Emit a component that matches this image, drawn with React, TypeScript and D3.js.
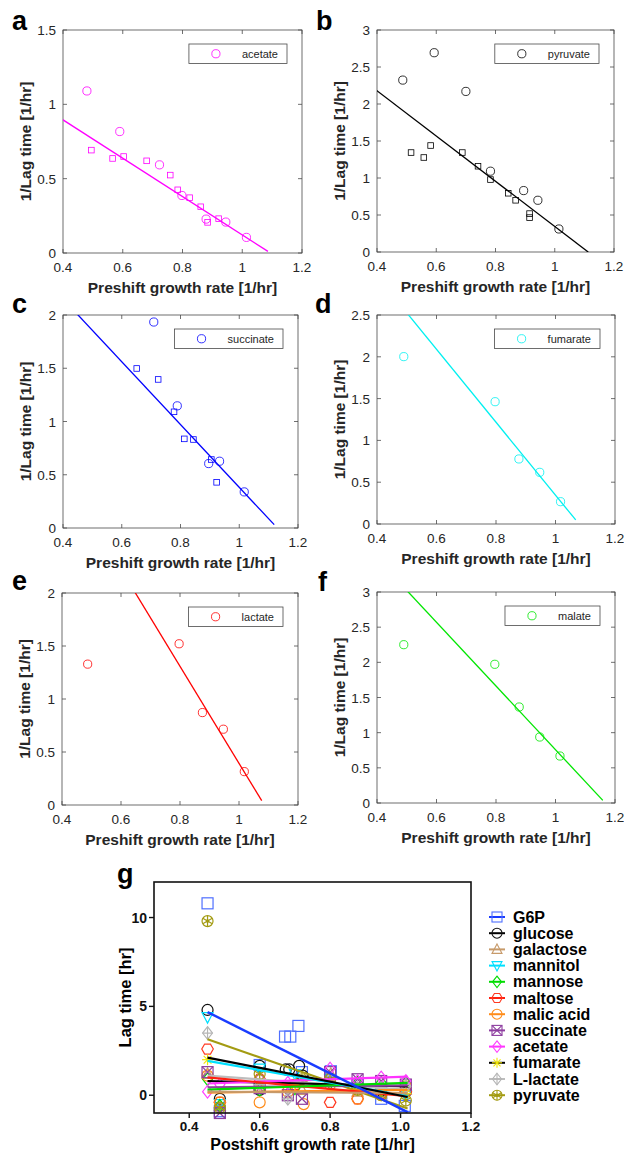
import React from "react";
import * as d3 from "d3";

const FONT = "'Liberation Sans', Arial, Helvetica, sans-serif";
const INK = "#262626";

// ---------- panels a-f : 1/lag time vs preshift growth rate ----------
const preTicks = [0.4, 0.6, 0.8, 1, 1.2];

const acetateCircles = [[0.48, 1.09], [0.59, 0.817], [0.723, 0.593], [0.798, 0.387], [0.879, 0.228], [0.945, 0.208], [1.014, 0.105]];
const acetateSquares = [[0.495, 0.692], [0.566, 0.636], [0.603, 0.649], [0.68, 0.62], [0.759, 0.524], [0.784, 0.425], [0.824, 0.372], [0.861, 0.311], [0.884, 0.206], [0.921, 0.231]];
const acetateFit = [1.411, -1.289, 1.086]; // intercept, slope, last x

const pyruvateCircles = [[0.487, 2.323], [0.593, 2.693], [0.7, 2.17], [0.783, 1.092], [0.895, 0.83], [0.943, 0.699], [1.014, 0.311]];
const pyruvateSquares = [[0.515, 1.344], [0.558, 1.277], [0.581, 1.439], [0.688, 1.344], [0.741, 1.159], [0.783, 0.979], [0.843, 0.794], [0.868, 0.699], [0.915, 0.519], [0.915, 0.465]];
const pyruvateFit = [3.401, -3.056, 1.113];

const succinateCircles = [[0.709, 1.934], [0.789, 1.147], [0.896, 0.605], [0.933, 0.627], [1.017, 0.339]];
const succinateSquares = [[0.651, 1.498], [0.724, 1.395], [0.778, 1.091], [0.813, 0.837], [0.844, 0.831], [0.905, 0.643], [0.923, 0.429]];
const succinateFit = [3.33, -2.948, 1.119];

const fumarateCircles = [[0.49, 2.002], [0.797, 1.463], [0.877, 0.778], [0.947, 0.618], [1.017, 0.267]];
const fumarateFit = [4.708, -4.363, 1.068];

const lactateCircles = [[0.487, 1.329], [0.797, 1.521], [0.876, 0.872], [0.947, 0.715], [1.018, 0.315]];
const lactateFit = [4.97, -4.577, 1.077];

const malateCircles = [[0.49, 2.251], [0.796, 1.972], [0.878, 1.365], [0.947, 0.938], [1.015, 0.668]];
const malateFit = [5.287, -4.529, 1.159];

const panels = [
  { letter: "a", lx: 12, ly: 30, name: "acetate", color: "#ff00ff", circles: acetateCircles, squares: acetateSquares, fit: acetateFit, yMax: 1.5, box: [63, 302, 30, 253] },
  { letter: "b", lx: 316, ly: 30, name: "pyruvate", color: "#000000", circles: pyruvateCircles, squares: pyruvateSquares, fit: pyruvateFit, yMax: 3, box: [377, 614, 30, 252] },
  { letter: "c", lx: 12, ly: 313, name: "succinate", color: "#0000ff", circles: succinateCircles, squares: succinateSquares, fit: succinateFit, yMax: 2, box: [63, 298, 315, 528] },
  { letter: "d", lx: 315, ly: 313, name: "fumarate", color: "#00f0f0", circles: fumarateCircles, squares: [], fit: fumarateFit, yMax: 2.5, box: [377, 615, 315, 524] },
  { letter: "e", lx: 12, ly: 590, name: "lactate", color: "#ff0000", circles: lactateCircles, squares: [], fit: lactateFit, yMax: 2, box: [62, 298, 593, 805] },
  { letter: "f", lx: 318, ly: 591, name: "malate", color: "#00e600", circles: malateCircles, squares: [], fit: malateFit, yMax: 3, box: [377, 615, 592, 803] },
];

// ---------- panel g : lag time vs postshift growth rate ----------
const postTicks = [0.4, 0.6, 0.8, 1.0, 1.2];
const lagTicks = [0, 5, 10];

const gNames = ["G6P", "glucose", "galactose", "mannitol", "mannose", "maltose", "malic acid", "succinate", "acetate", "fumarate", "L-lactate", "pyruvate"];

const g6pPts = [[0.452, 10.8], [0.487, -0.9], [0.6, 1.7], [0.672, 3.3], [0.687, 3.3], [0.71, 3.9], [0.72, 1.3], [0.802, 1.35], [0.878, 0.6], [0.945, -0.2], [1.012, -0.6]];
const glucosePts = [[0.452, 4.8], [0.487, -0.2], [0.6, 1.65], [0.6, 0.3], [0.674, 1.45], [0.684, 1.45], [0.712, 1.65], [0.722, 1.1], [0.8, 0.95], [0.878, 0.4], [0.945, 0.25], [1.015, 0.2]];
const galactosePts = [[0.452, 1.2], [0.487, -0.6], [0.6, 0.6], [0.69, 0.5], [0.72, 0.3], [0.802, 1.2], [0.878, 0.2], [0.945, 0.1], [1.015, 0.3]];
const mannitolPts = [[0.452, 4.4], [0.487, -0.5], [0.6, 1.5], [0.7, 1.2], [0.8, 0.9], [0.878, 0.4], [0.945, 0.2], [1.015, 0.0]];
const mannosePts = [[0.452, 0.9], [0.487, -0.6], [0.6, 0.3], [0.7, 0.4], [0.8, 0.7], [0.878, 0.7], [0.945, 0.7], [1.015, 0.7]];
const maltosePts = [[0.452, 2.6], [0.487, -0.4], [0.6, 0.9], [0.7, 0.6], [0.8, -0.4], [0.878, -0.2], [0.945, 0.1], [1.015, 0.2]];
const malicPts = [[0.452, 1.1], [0.487, -0.4], [0.6, -0.4], [0.68, 0.2], [0.725, -0.5], [0.8, 0.6], [0.878, -0.2], [0.945, 0.0], [1.015, 0.5]];
const succinatePts = [[0.452, 1.3], [0.487, -1.0], [0.6, 0.4], [0.68, 0.0], [0.72, -0.2], [0.8, 1.3], [0.878, 0.9], [0.945, 0.8], [1.015, 0.6]];
const acetatePts = [[0.452, 0.2], [0.487, 0.6], [0.6, 0.9], [0.68, 0.7], [0.8, 1.5], [0.878, 0.8], [0.945, 1.0], [1.015, 0.8]];
const fumaratePts = [[0.452, 2.0], [0.6, 0.7], [0.7, 0.6], [0.8, 0.8], [0.878, 0.4], [0.945, 0.3], [1.015, 0.1]];
const lactatePts = [[0.452, 3.5], [0.6, 0.6], [0.68, -0.2], [0.8, 0.9], [0.878, 0.4], [0.945, 0.4], [1.015, 0.5]];
const pyruvatePts = [[0.452, 9.8], [0.487, -0.7], [0.6, 1.2], [0.72, 0.9], [0.8, 0.9], [0.878, 0.3], [0.945, 0.0], [1.015, -0.3]];
const gPoints = [g6pPts, glucosePts, galactosePts, mannitolPts, mannosePts, maltosePts, malicPts, succinatePts, acetatePts, fumaratePts, lactatePts, pyruvatePts];

// fitted lag at the first and last postshift rate
const gFitX = [0.452, 1.02];
const gFitStart = [4.68, 2.12, 0.2, 1.93, 0.32, 1.0, 0.15, 0.45, 0.66, 0.8, 1.1, 3.15];
const gFitEnd = [-0.95, -0.1, 0.12, -0.05, 0.7, -0.05, 0.3, 0.55, 1.05, 0.5, 0.3, -0.75];

// styles for g
const gMarkerColor = ["#4f6fff", "#111111", "#c79a6a", "#00e0ff", "#00dd00", "#ff3a22", "#ff8c1a", "#8e3fa0", "#ff40ff", "#f2e600", "#b5b5b5", "#a39b12"];
const gLineColor = ["#1a3cff", "#000000", "#c79a6a", "#00e0ff", "#00dd00", "#ff2010", "#ff8c1a", "#8e3fa0", "#ff33ff", "#000000", "#bdbdbd", "#a39b12"];
const gShape = ["square", "circle", "triUp", "triDown", "diamond", "hexagon", "circle", "squareX", "diamond", "asterisk", "diamondPlus", "circleStar"];

let measureCtx: CanvasRenderingContext2D | null = null;
function textWidth(s: string, font: string) {
  if (!measureCtx) measureCtx = document.createElement("canvas").getContext("2d");
  if (!measureCtx) return s.length * 6;
  measureCtx.font = font;
  return measureCtx.measureText(s).width;
}

const fmt = d3.format("~g");

function Marker({ shape, cx, cy, s, color, sw }: any) {
  const h = s / 2;
  const common = { fill: "none", stroke: color, strokeWidth: sw };
  const poly = (pts: number[][]) => "M" + pts.map((p) => p.join(",")).join("L") + "Z";
  switch (shape) {
    case "square":
      return <rect x={cx - h} y={cy - h} width={s} height={s} {...common} />;
    case "circle":
      return <circle cx={cx} cy={cy} r={h} {...common} />;
    case "triUp":
      return <path d={poly([[cx, cy - h * 1.1], [cx + h, cy + h * 0.8], [cx - h, cy + h * 0.8]])} {...common} />;
    case "triDown":
      return <path d={poly([[cx, cy + h * 1.1], [cx + h, cy - h * 0.8], [cx - h, cy - h * 0.8]])} {...common} />;
    case "diamond":
      return <path d={poly([[cx, cy - h * 1.15], [cx + h * 0.9, cy], [cx, cy + h * 1.15], [cx - h * 0.9, cy]])} {...common} />;
    case "hexagon":
      return <path d={poly(d3.range(6).map((k) => [cx + h * 1.05 * Math.cos((k * Math.PI) / 3), cy + h * 1.05 * Math.sin((k * Math.PI) / 3)]))} {...common} />;
    case "squareX":
      return (
        <g {...common}>
          <rect x={cx - h} y={cy - h} width={s} height={s} />
          <path d={`M${cx - h},${cy - h}L${cx + h},${cy + h}M${cx + h},${cy - h}L${cx - h},${cy + h}`} />
        </g>
      );
    case "asterisk":
      return (
        <g {...common}>
          {[0, 45, 90, 135].map((a) => {
            const dx = h * Math.cos((a * Math.PI) / 180);
            const dy = h * Math.sin((a * Math.PI) / 180);
            return <line key={a} x1={cx - dx} y1={cy - dy} x2={cx + dx} y2={cy + dy} />;
          })}
        </g>
      );
    case "diamondPlus":
      return (
        <g {...common}>
          <path d={poly([[cx, cy - h * 1.15], [cx + h * 0.9, cy], [cx, cy + h * 1.15], [cx - h * 0.9, cy]])} />
          <path d={`M${cx},${cy - h * 1.15}L${cx},${cy + h * 1.15}M${cx - h * 0.9},${cy}L${cx + h * 0.9},${cy}`} />
        </g>
      );
    case "circleStar":
      return (
        <g {...common}>
          <circle cx={cx} cy={cy} r={h} />
          {[30, 90, 150].map((a) => {
            const dx = h * Math.cos((a * Math.PI) / 180);
            const dy = h * Math.sin((a * Math.PI) / 180);
            return <line key={a} x1={cx - dx} y1={cy - dy} x2={cx + dx} y2={cy + dy} />;
          })}
          <circle cx={cx} cy={cy} r={1.2} fill={color} />
        </g>
      );
    default:
      return null;
  }
}

function Panel({ p }: any) {
  const [left, right, top, bottom] = p.box;
  const x = d3.scaleLinear([0.4, 1.2], [left, right]);
  const y = d3.scaleLinear([0, p.yMax], [bottom, top]);
  const yTicks = d3.range(0, p.yMax + 1e-9, 0.5);
  const [b0, b1, xEnd] = p.fit;
  const fitLine = d3.line<number>()
    .x((v) => x(v))
    .y((v) => y(b0 + b1 * v));
  const clipId = "clip-" + p.letter;
  const legFont = `11px ${FONT}`;
  const legW = 53 + textWidth(p.name, legFont) + 9;
  const legR = right - 15;
  const legT = top + 14;
  const tk = 4;
  return (
    <g>
      <defs>
        <clipPath id={clipId}>
          <rect x={left} y={top} width={right - left} height={bottom - top} />
        </clipPath>
      </defs>
      <rect x={left} y={top} width={right - left} height={bottom - top} fill="#fff" stroke="#4a4a4a" strokeWidth={0.8} />
      {preTicks.map((t) => (
        <g key={"x" + t} stroke="#4a4a4a" strokeWidth={0.8}>
          <line x1={x(t)} x2={x(t)} y1={bottom} y2={bottom - tk} />
          <line x1={x(t)} x2={x(t)} y1={top} y2={top + tk} />
        </g>
      ))}
      {yTicks.map((t) => (
        <g key={"y" + t} stroke="#4a4a4a" strokeWidth={0.8}>
          <line x1={left} x2={left + tk} y1={y(t)} y2={y(t)} />
          <line x1={right} x2={right - tk} y1={y(t)} y2={y(t)} />
        </g>
      ))}
      <g fontFamily={FONT} fontSize={13.5} fill={INK}>
        {preTicks.map((t) => (
          <text key={"xl" + t} x={x(t)} y={bottom + 19} textAnchor="middle">{fmt(t)}</text>
        ))}
        {yTicks.map((t) => (
          <text key={"yl" + t} x={left - 7} y={y(t) + 5} textAnchor="end">{fmt(t)}</text>
        ))}
      </g>
      <text x={(left + right) / 2} y={bottom + 40} textAnchor="middle" fontFamily={FONT} fontSize={15.5} fontWeight="bold" fill={INK}>
        Preshift growth rate [1/hr]
      </text>
      <text transform={`translate(${left - 32},${(top + bottom) / 2}) rotate(-90)`} textAnchor="middle" fontFamily={FONT} fontSize={15.5} fontWeight="bold" fill={INK}>
        1/Lag time [1/hr]
      </text>
      <text x={p.lx} y={p.ly} fontFamily={FONT} fontSize={27} fontWeight="bold" fill="#000">{p.letter}</text>
      <g clipPath={`url(#${clipId})`}>
        <path d={fitLine([0.3, xEnd]) || ""} fill="none" stroke={p.color} strokeWidth={1.3} />
      </g>
      {p.squares.map((d: number[], i: number) => (
        <rect key={"s" + i} x={x(d[0]) - 2.8} y={y(d[1]) - 2.8} width={5.6} height={5.6} fill="none" stroke={p.color} strokeWidth={0.8} />
      ))}
      {p.circles.map((d: number[], i: number) => (
        <circle key={"c" + i} cx={x(d[0])} cy={y(d[1])} r={4.1} fill="none" stroke={p.color} strokeWidth={0.8} />
      ))}
      <rect x={legR - legW} y={legT} width={legW} height={19.5} fill="#fff" stroke="#4a4a4a" strokeWidth={0.8} />
      <circle cx={legR - legW + 27} cy={legT + 9.75} r={4.1} fill="none" stroke={p.color} strokeWidth={0.8} />
      <text x={legR - legW + 53} y={legT + 13.7} fontFamily={FONT} fontSize={11} fill={INK}>{p.name}</text>
    </g>
  );
}

function PanelG() {
  const left = 154, right = 471, top = 882, bottom = 1113;
  const x = d3.scaleLinear([0.3, 1.2], [left, right]);
  const y = d3.scaleLinear([-1, 12], [bottom, top]);
  const legX = 489, legY = 917, legStep = 16.2;
  const order = d3.range(gNames.length);
  return (
    <g>
      <text x={117} y={883} fontFamily={FONT} fontSize={27} fontWeight="bold" fill="#000">g</text>
      {order.map((i) => (
        <g key={"m" + i}>
          {gPoints[i].map((d, j) => (
            <Marker key={j} shape={gShape[i]} cx={x(d[0])} cy={y(d[1])} s={11} color={gMarkerColor[i]} sw={1.2} />
          ))}
        </g>
      ))}
      {order.slice().reverse().map((i) => (
        <line key={"l" + i} x1={x(gFitX[0])} y1={y(gFitStart[i])} x2={x(gFitX[1])} y2={y(gFitEnd[i])} stroke={gLineColor[i]} strokeWidth={i === 0 ? 2.4 : 2.2} />
      ))}
      <rect x={left} y={top} width={right - left} height={bottom - top} fill="none" stroke="#111" strokeWidth={1.6} />
      {postTicks.map((t) => (
        <g key={"xt" + t}>
          <line x1={x(t)} x2={x(t)} y1={bottom} y2={bottom + 5} stroke="#111" strokeWidth={1.4} />
          <text x={x(t)} y={bottom + 18} textAnchor="middle" fontFamily={FONT} fontSize={13.5} fontWeight="bold" fill="#111">{t.toFixed(1)}</text>
        </g>
      ))}
      {lagTicks.map((t) => (
        <g key={"yt" + t}>
          <line x1={left} x2={left - 5} y1={y(t)} y2={y(t)} stroke="#111" strokeWidth={1.4} />
          <text x={left - 7} y={y(t) + 5} textAnchor="end" fontFamily={FONT} fontSize={14} fontWeight="bold" fill="#111">{t}</text>
        </g>
      ))}
      <text x={(left + right) / 2} y={1150} textAnchor="middle" fontFamily={FONT} fontSize={16} fontWeight="bold" fill="#000">
        Postshift growth rate [1/hr]
      </text>
      <text transform={`translate(131,${(top + bottom) / 2}) rotate(-90)`} textAnchor="middle" fontFamily={FONT} fontSize={16.5} fontWeight="bold" fill="#000">
        Lag time [hr]
      </text>
      {gNames.map((n, i) => {
        const cy = legY + i * legStep;
        return (
          <g key={"lg" + i}>
            <line x1={legX} x2={legX + 16} y1={cy} y2={cy} stroke={gLineColor[i]} strokeWidth={2} />
            <Marker shape={gShape[i]} cx={legX + 8} cy={cy} s={10} color={gMarkerColor[i]} sw={1.1} />
            <text x={513} y={cy + 5.5} fontFamily={FONT} fontSize={16} fontWeight="bold" fill="#000">{n}</text>
          </g>
        );
      })}
    </g>
  );
}

export default function App() {
  return (
    <svg width={624} height={1157} style={{ position: "absolute", left: 0, top: 0, background: "#fff" }}>
      <rect width={624} height={1157} fill="#fff" />
      {panels.map((p) => (
        <Panel key={p.letter} p={p} />
      ))}
      <PanelG />
    </svg>
  );
}
